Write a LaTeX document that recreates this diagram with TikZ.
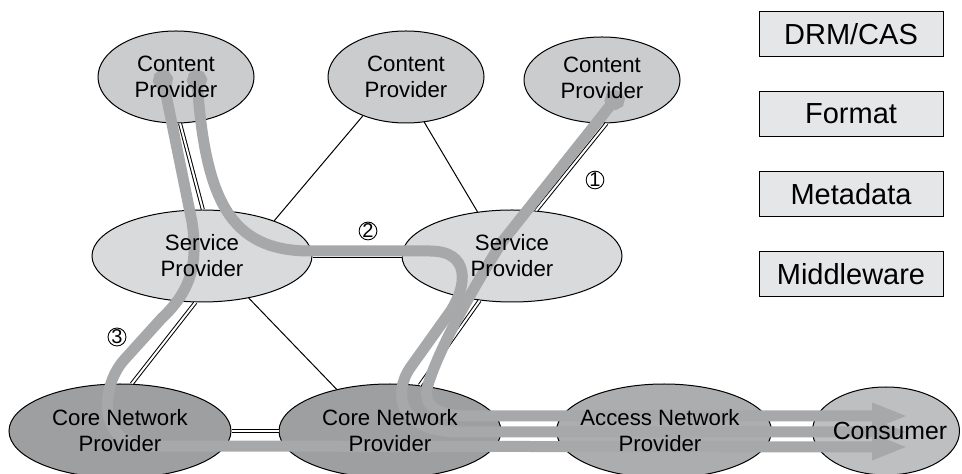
\documentclass[tikz,border=0pt]{standalone}
\usepackage{fontspec}
\setmainfont{Liberation Sans}
\definecolor{cpgray}{RGB}{203,204,206}
\definecolor{spgray}{RGB}{217,218,220}
\definecolor{coregray}{RGB}{158,159,161}
\definecolor{accgray}{RGB}{172,173,175}
\definecolor{congray}{RGB}{190,191,193}
\definecolor{flowgray}{RGB}{167,168,170}
\definecolor{boxgray}{RGB}{229,230,232}
\usepackage{tikz}
\usetikzlibrary{shapes.geometric,arrows.meta,positioning}

\begin{document}
\begin{tikzpicture}[x=0.5pt,y=-0.5pt,node distance=17pt]
  \tikzstyle{party}=[ellipse,draw=black,line width=0.5pt,inner sep=0pt]
  \tikzstyle{cp}=[party,fill=cpgray,minimum width=78pt,minimum height=46pt]
  \tikzstyle{sp}=[party,fill=spgray,minimum width=110pt,minimum height=46pt]
  \tikzstyle{core}=[party,fill=coregray,minimum width=111pt,minimum height=47pt]
  \tikzstyle{acc}=[party,fill=accgray,minimum width=107.5pt,minimum height=47pt]
  \tikzstyle{con}=[party,fill=congray,minimum width=73.5pt,minimum height=44pt]
  \tikzstyle{lbl}=[align=center,inner sep=0pt,font=\fontsize{11.1pt}{13pt}\selectfont]
  \tikzstyle{tag}=[rectangle,draw=black,line width=0.5pt,fill=boxgray,minimum width=92pt,minimum height=22.5pt,font=\fontsize{14.5pt}{17pt}\selectfont]
  \tikzstyle{link}=[black,line width=0.5pt]
  \tikzstyle{duallink}=[link,double=white,double distance=1pt]
  \tikzstyle{flow}=[flowgray,line width=5.5pt,{Circle[length=10pt]}-{Triangle[length=18pt,width=12pt]}]
  \tikzstyle{num}=[circle,draw=black,line width=0.45pt,inner sep=0pt,minimum size=8.6pt,font=\fontsize{10pt}{10pt}\selectfont]
  \useasboundingbox (0,0) rectangle (962,474);

  % parties
  \node[cp] (cp1) at (176,77) {};
  \node[cp] (cp2) at (406,77) {};
  \node[cp,minimum height=43pt] (cp3) at (602,80) {};
  \node[sp] (sp1) at (202,256) {};
  \node[sp] (sp2) at (512,256) {};
  \node[core] (cnp1) at (120,431) {};
  \node[core] (cnp2) at (390,431) {};
  \node[acc] (anp) at (664,431) {};
  \node[con] (cons) at (886,431) {};

  % links
  \draw[duallink] (cp1.-85) -- (sp1.89);
  \draw[link] (cp2.-138) -- (sp1.26);
  \draw[link] (cp2.-68) -- (sp2.128);
  \draw[duallink] (cp3.-84) -- (sp2.62);
  \draw[duallink] (sp1.east) -- (sp2.west);
  \draw[duallink] (sp1.-98) -- (cnp1.76);
  \draw[link] (sp1.-42) -- (cnp2.142);
  \draw[duallink] (sp2.-126) -- (cnp2.57);
  \draw[duallink] (cnp1.east) -- (cnp2.west);
  \draw[duallink] (cnp2.east) -- (anp.west);
  \draw[duallink] (anp.east) -- (cons.west);

  % flows
  \coordinate (f1s) at (621,92);
  \coordinate (f2s) at (196,70);
  \coordinate (f3s) at (161,70);
  \coordinate (f1e) at (908,416);
  \coordinate (f2e) at (908,432);
  \coordinate (f3e) at (908,447);
  \draw[flow] (f1s) -- (502,242) .. controls (478,280) and (440,345) .. (428,385)
    .. controls (422,405) and (435,416) .. (470,416) -- (f1e);
  \draw[flow] (f2s) -- (197,80) .. controls (205,200) and (230,251) .. (310,251) -- (430,251)
    .. controls (470,251) and (468,285) .. (450,312) -- (410,368)
    .. controls (392,395) and (400,432) .. (460,432) -- (f2e);
  \draw[flow] (f3s) -- (192,222) .. controls (198,262) and (192,290) .. (162,318) -- (124,360)
    .. controls (100,387) and (97,446) .. (150,446) -- (f3e);

  % labels
  \node[lbl] (cp1t) at (cp1) {Content\\Provider};
  \node[lbl] (cp2t) at (cp2) {Content\\Provider};
  \node[lbl] (cp3t) at (602,78) {Content\\Provider};
  \node[lbl] (sp1t) at (sp1) {Service\\Provider};
  \node[lbl] (sp2t) at (sp2) {Service\\Provider};
  \node[lbl] (cnp1t) at (cnp1) {Core Network\\Provider};
  \node[lbl] (cnp2t) at (cnp2) {Core Network\\Provider};
  \node[lbl] (anpt) at (660,431) {Access Network\\Provider};
  \node[lbl,font=\fontsize{12.4pt}{14pt}\selectfont] (const) at (890,431) {Consumer};

  \node[num] (n1) at (595,180) {1};
  \node[num] (n2) at (368,231) {2};
  \node[num] (n3) at (117,337) {3};

  % functions
  \node[tag] (drm) at (851,34) {DRM/CAS};
  \node[tag,below=of drm] (fmt) {Format};
  \node[tag,below=of fmt] (meta) {Metadata};
  \node[tag,below=of meta] (mid) {Middleware};
\end{tikzpicture}
\end{document}
